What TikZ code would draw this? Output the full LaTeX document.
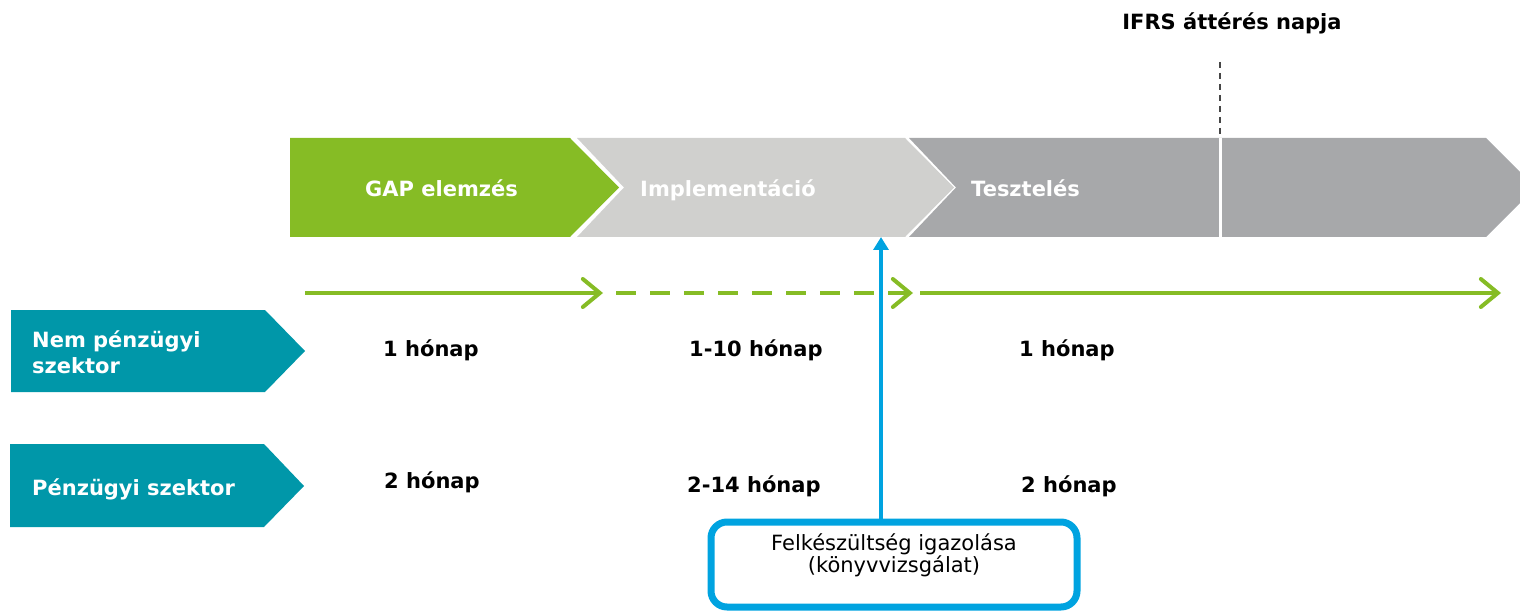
\documentclass[tikz,border=0pt]{standalone}
\usepackage{fontspec}
\setmainfont{DejaVu Sans}
\usetikzlibrary{arrows.meta}
\definecolor{dgreen}{RGB}{134,188,37}
\definecolor{lgrey}{RGB}{208,208,206}
\definecolor{mgrey}{RGB}{167,168,170}
\definecolor{dteal}{RGB}{0,151,169}
\definecolor{dblue}{RGB}{0,163,224}
\definecolor{dashgrey}{RGB}{70,70,70}
\begin{document}
\begin{tikzpicture}[x=1pt,y=-1pt,
  lbl/.style={font=\bfseries\fontsize{21}{26}\selectfont, inner sep=0pt, anchor=base west},
  phase/.style={lbl, text=white},
  sector/.style={lbl, text=white, align=left},
  garrow/.style={dgreen, line width=4pt, -{Straight Barb[length=17pt,width=28pt,line cap=round]}},
  barrow/.style={dblue, line width=3.5pt, -{Triangle[length=13pt,width=15pt]}},
  okbox/.style={draw=dblue, line width=7pt, rounded corners=16pt, minimum width=366pt, minimum height=85pt, inner sep=0pt},
]
\useasboundingbox (0,0) rectangle (1520,612);
\clip (0,0) rectangle (1520,612);

% phase chevrons
\fill[dgreen] (290,138) -- (570,138) -- (619,187.5) -- (570,237) -- (290,237) -- cycle;
\fill[lgrey] (577,138) -- (905,138) -- (954,187.5) -- (905,237) -- (577,237) -- (624,187.5) -- cycle;
\fill[mgrey] (909,138) -- (1486,138) -- (1535.5,187.5) -- (1486,237) -- (909,237) -- (956,187.5) -- cycle;
\draw[white, line width=3pt] (1220.5,138) -- (1220.5,237);

\node[phase] (gap) at (365,197) {GAP elemzés};
\node[phase] (impl) at (640,197) {Implementáció};
\node[phase] (teszt) at (971,197) {Tesztelés};

% IFRS date
\node[lbl, anchor=base] (ifrs) at (1232,30) {IFRS áttérés napja};
\coordinate (ifrsTop) at (1219.5,62);
\coordinate (ifrsBot) at (1219.5,138);
\draw[dashgrey, line width=2pt, dash pattern=on 6pt off 5pt] (ifrsTop) -- (ifrsBot);

% sector arrows
\fill[dteal] (11,310) -- (265,310) -- (305,351) -- (265,392) -- (11,392) -- cycle;
\fill[dteal] (10,444) -- (264,444) -- (304,486) -- (264,527) -- (10,527) -- cycle;
\node[sector] (nonfin) at (32,373) {Nem pénzügyi\\szektor};
\node[sector] (fin) at (32,495) {Pénzügyi szektor};

% durations
\node[lbl] (d11) at (383,356) {1 hónap};
\node[lbl] (d12) at (689,356) {1-10 hónap};
\node[lbl] (d13) at (1019,356) {1 hónap};
\node[lbl] (d21) at (384,488) {2 hónap};
\node[lbl] (d22) at (687,492) {2-14 hónap};
\node[lbl] (d23) at (1021,492) {2 hónap};

% green timeline
\coordinate (g0) at (305,293);
\coordinate (g1) at (603,293);
\coordinate (g2) at (616,293);
\coordinate (g3) at (913,293);
\coordinate (g4) at (920,293);
\coordinate (g5) at (1501,293);
\draw[garrow] (g0) -- (g1);
\draw[garrow, dash pattern=on 20pt off 14pt] (g2) -- (g3);
\draw[garrow] (g4) -- (g5);

% audit box
\node[okbox] (box) at (894,564.5) {};
\node[font=\fontsize{21}{22}\selectfont, align=center, anchor=base, inner sep=0pt] (boxtext) at (894,572) {Felkészültség igazolása\\(könyvvizsgálat)};
\coordinate (bandBot) at (881,237);
\draw[barrow] (box.north -| bandBot) -- (bandBot);
\end{tikzpicture}
\end{document}
